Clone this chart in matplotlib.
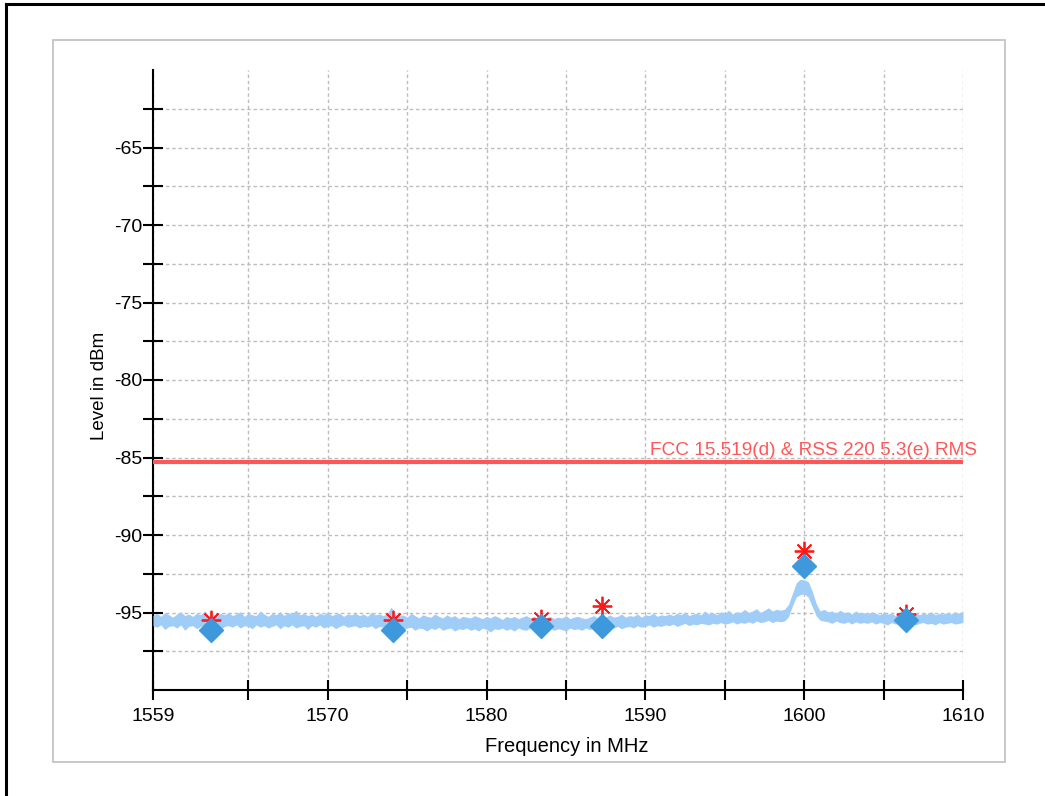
import numpy as np
import matplotlib
matplotlib.use("Agg")
import matplotlib.pyplot as plt
from matplotlib.patches import Rectangle
from matplotlib.lines import Line2D
from matplotlib.ticker import FixedLocator

plt.rcParams['font.family'] = ['Liberation Sans', 'DejaVu Sans']

# ---- data ----
freq_start, freq_stop, freq_step = 1559.0, 1610.0, 0.25
freq = np.arange(freq_start, freq_stop + 1e-9, freq_step)

trace_upper = [
    -95.20,-95.05,-95.25,-95.00,-95.15,-95.30,-95.10,-94.95,-95.20,-95.10,
    -95.25,-95.05,-95.15,-94.90,-95.20,-95.10,-95.30,-95.05,-95.15,-95.00,
    -95.20,-95.10,-94.95,-95.25,-95.05,-95.15,-95.20,-94.90,-95.10,-95.25,
    -95.05,-95.15,-94.95,-95.20,-95.00,-95.10,-94.85,-95.15,-95.05,-95.20,
    -95.10,-95.25,-95.05,-95.15,-94.95,-95.20,-95.10,-95.05,-95.25,-95.10,
    -95.15,-95.05,-95.20,-95.10,-95.25,-95.00,-95.15,-95.10,-95.20,-95.05,
    -94.65,-95.10,-95.25,-95.15,-95.30,-95.05,-95.20,-95.35,-95.15,-95.25,
    -95.30,-95.10,-95.25,-95.35,-95.15,-95.30,-95.20,-95.40,-95.25,-95.30,
    -95.35,-95.20,-95.30,-95.40,-95.25,-95.35,-95.20,-95.30,-95.45,-95.25,
    -95.35,-95.25,-95.40,-95.30,-95.20,-95.35,-95.25,-95.40,-95.30,-95.35,
    -95.25,-95.40,-95.30,-95.35,-95.20,-95.40,-95.30,-95.25,-95.35,-95.40,
    -95.30,-95.20,-95.35,-95.25,-95.30,-95.15,-95.30,-95.25,-95.10,-95.30,
    -95.20,-95.25,-95.10,-95.30,-95.15,-95.20,-95.05,-95.25,-95.15,-95.20,
    -95.10,-95.20,-95.05,-95.15,-94.95,-95.20,-95.10,-95.05,-95.15,-94.90,
    -95.10,-95.00,-95.15,-94.95,-95.05,-94.85,-95.10,-94.95,-95.00,-94.80,
    -95.00,-94.90,-94.75,-95.00,-94.85,-94.70,-94.90,-94.80,-94.85,-94.80,
    -94.50,-93.80,-93.10,-92.85,-92.90,-93.00,-93.60,-94.40,-94.90,-94.80,
    -94.95,-94.90,-95.05,-94.85,-95.00,-94.95,-95.10,-94.90,-95.05,-95.00,
    -95.10,-94.95,-95.05,-95.15,-95.00,-95.10,-95.05,-95.20,-94.95,-94.70,
    -95.00,-95.10,-95.00,-95.15,-95.05,-95.10,-94.95,-95.15,-95.05,-95.10,
    -95.00,-95.10,-94.95,-95.05,-94.90,
]
trace_lower = [
    -95.85,-95.95,-95.80,-96.10,-95.90,-95.85,-96.00,-95.80,-96.15,-95.90,
    -95.85,-96.05,-95.90,-95.80,-96.00,-95.95,-95.85,-96.10,-95.90,-95.85,
    -95.95,-95.80,-96.00,-95.85,-95.90,-96.05,-95.80,-95.95,-95.85,-96.00,
    -95.90,-95.80,-96.05,-95.85,-95.95,-95.80,-96.00,-95.90,-95.85,-96.10,
    -95.85,-95.95,-95.80,-96.00,-95.90,-95.85,-96.05,-95.90,-95.80,-95.95,
    -95.90,-95.85,-96.00,-95.90,-95.95,-95.85,-96.05,-95.90,-95.95,-95.85,
    -95.95,-96.05,-95.90,-96.10,-96.00,-95.95,-96.15,-96.00,-96.05,-96.20,
    -96.00,-96.10,-95.95,-96.15,-96.05,-96.00,-96.20,-96.05,-96.10,-96.00,
    -96.15,-96.05,-96.20,-96.00,-96.10,-96.25,-96.05,-96.10,-96.00,-96.15,
    -96.05,-96.20,-96.00,-96.10,-96.15,-96.00,-96.10,-96.25,-96.05,-96.10,
    -96.00,-96.15,-96.05,-96.10,-96.20,-96.00,-96.10,-96.05,-96.15,-96.00,
    -96.10,-96.00,-96.05,-96.15,-95.95,-96.05,-96.00,-95.90,-96.05,-95.95,
    -95.90,-96.00,-95.85,-95.95,-95.90,-95.80,-95.95,-95.85,-95.90,-95.80,
    -95.85,-95.75,-95.90,-95.80,-95.70,-95.85,-95.75,-95.80,-95.70,-95.75,
    -95.80,-95.70,-95.75,-95.65,-95.75,-95.70,-95.60,-95.75,-95.65,-95.70,
    -95.60,-95.70,-95.55,-95.65,-95.60,-95.50,-95.65,-95.55,-95.60,-95.55,
    -95.30,-94.60,-94.00,-93.85,-93.80,-94.00,-94.60,-95.20,-95.50,-95.55,
    -95.60,-95.70,-95.55,-95.65,-95.70,-95.60,-95.75,-95.60,-95.70,-95.65,
    -95.70,-95.60,-95.75,-95.65,-95.70,-95.80,-95.65,-95.75,-95.70,-95.65,
    -95.75,-95.65,-95.80,-95.70,-95.65,-95.75,-95.70,-95.80,-95.65,-95.75,
    -95.70,-95.65,-95.75,-95.70,-95.65,
]

marker_freq = [1562.65, 1574.1, 1583.4, 1587.3, 1600.0, 1606.4]
peak_level = [-95.5, -95.5, -95.4, -94.55, -91.0, -95.1]      # red asterisks
avg_level = [-96.1, -96.1, -95.9, -95.9, -92.0, -95.5]        # blue diamonds

limit_level = -85.3
limit_label = "FCC 15.519(d) & RSS 220 5.3(e) RMS"

x_labeled_ticks = [1559, 1570, 1580, 1590, 1600, 1610]
x_all_ticks = [1559, 1565, 1570, 1575, 1580, 1585, 1590, 1595, 1600, 1605, 1610]
y_labeled_ticks = [-95, -90, -85, -80, -75, -70, -65]

# ---- figure ----
W, H = 1045, 796
fig = plt.figure(figsize=(W / 100, H / 100), dpi=100)

# outer black frame (left & top only visible)
fig.add_artist(Line2D([6 / W, 6 / W], [0, 1 - 4 / H], color='black', lw=2.2,
                      transform=fig.transFigure))
fig.add_artist(Line2D([6 / W, 1], [1 - 4 / H, 1 - 4 / H], color='black', lw=2.2,
                      transform=fig.transFigure))
# inner gray panel
fig.add_artist(Rectangle((53 / W, 1 - 762 / H), (1005 - 53) / W, (762 - 40) / H,
                         transform=fig.transFigure, fill=False,
                         edgecolor='#c4c4c4', lw=1.3))

ax = fig.add_axes([153 / W, 1 - 690 / H, (963 - 153) / W, (690 - 70) / H])

ax.fill_between(freq, trace_lower, trace_upper, color='#9fcdf7', lw=0,
                zorder=3)
ax.plot(marker_freq, peak_level, linestyle='none', marker=(8, 2, 0),
        markersize=14, markeredgewidth=1.3, color='#ff1a1a', zorder=4)
ax.plot(marker_freq, avg_level, linestyle='none', marker='D',
        markersize=12.5, color='#3d98dc', markeredgecolor='#3d98dc', zorder=5)

ax.axhline(limit_level, color='#ff5757', lw=3, zorder=4)
ax.text(1610 + 0.9, limit_level + 0.2, limit_label, color='#ff5757',
        fontsize=13.7, ha='right', va='bottom', zorder=6)

ax.set_xlim(freq_start, freq_stop)
ax.set_ylim(-100, -60)

ax.xaxis.set_major_locator(FixedLocator(x_all_ticks))
ax.set_xticklabels([str(t) if t in x_labeled_ticks else '' for t in x_all_ticks])
yt = np.arange(-97.5, -60, 2.5)
ax.yaxis.set_major_locator(FixedLocator(yt))
ax.set_yticklabels([str(int(t)) if t in y_labeled_ticks else '' for t in yt])

ax.tick_params(direction='inout', length=14, width=1.5, labelsize=14,
               colors='black')
ax.tick_params(axis='x', pad=6)
ax.tick_params(axis='y', pad=1)
ax.grid(True, color='#bdbdbd', linestyle=(0, (2.5, 2)), lw=1.0, zorder=0)

for s in ['top', 'right']:
    ax.spines[s].set_visible(False)
for s in ['left', 'bottom']:
    ax.spines[s].set_linewidth(1.5)

ax.set_xlabel('Frequency in MHz', fontsize=14.5)
ax.xaxis.set_label_coords(0.511, -0.076)
ax.set_ylabel('Level in dBm', fontsize=13.5)
ax.yaxis.set_label_coords(-0.056, 0.49)

fig.savefig('out.png', dpi=100)
